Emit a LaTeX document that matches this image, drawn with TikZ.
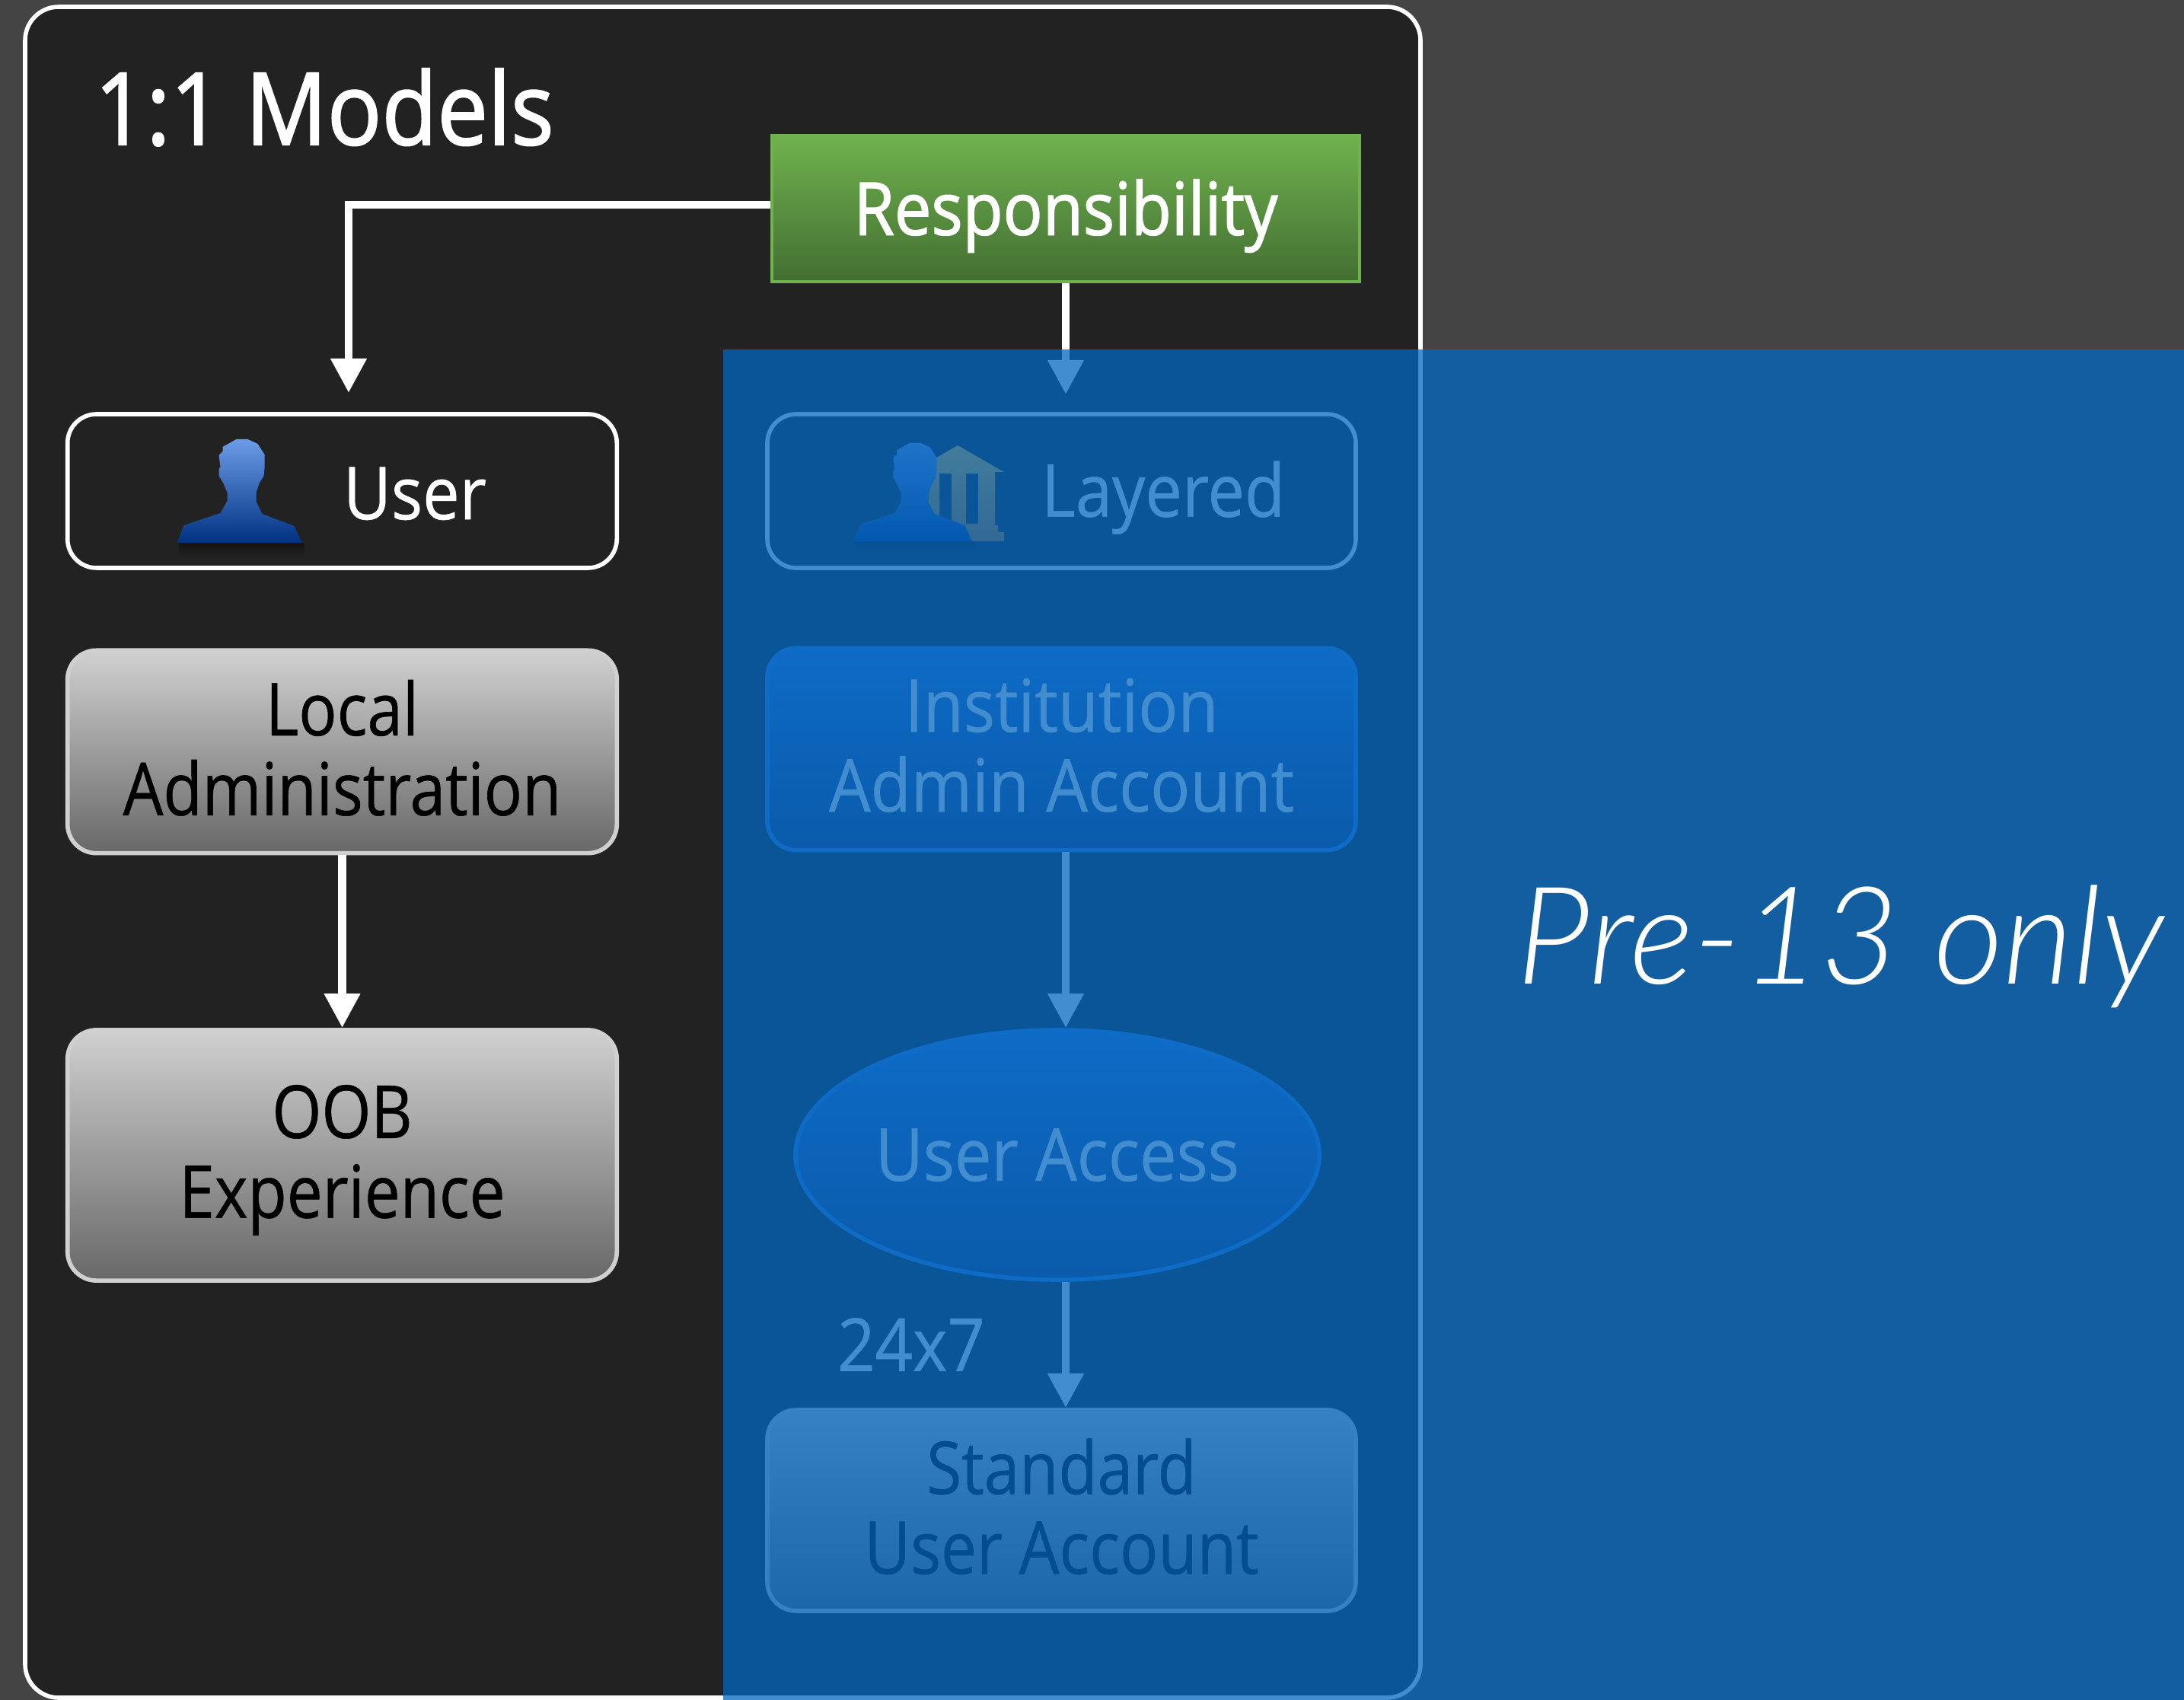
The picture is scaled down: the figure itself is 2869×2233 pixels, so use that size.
\documentclass[tikz,border=0pt]{standalone}
\usepackage{fontspec}
\setmainfont[FakeStretch=0.9,FakeBold=0.6]{Open Sans}
\newfontfamily\narrowfont[FakeStretch=0.87,FakeBold=0.6]{Open Sans}
\newfontfamily\headfont[FakeStretch=0.9,FakeBold=1.5]{Open Sans}
\newfontfamily\prefont[ItalicFont={Lato Light Italic}]{Lato}
\usetikzlibrary{arrows.meta}
\usetikzlibrary{fadings}
\usetikzlibrary{shapes.geometric}
\definecolor{bgc}{RGB}{68,68,68}
\definecolor{panelc}{RGB}{34,34,34}
\definecolor{veilc}{RGB}{3,103,191}
\definecolor{greent}{RGB}{112,178,78}
\definecolor{greenb}{RGB}{66,110,50}
\definecolor{grayt}{RGB}{208,208,208}
\definecolor{grayb}{RGB}{104,104,104}
\definecolor{bluet}{RGB}{48,120,220}
\definecolor{blueb}{RGB}{32,56,110}
\definecolor{persont}{RGB}{108,156,232}
\definecolor{personb}{RGB}{0,50,130}
\definecolor{bankt}{RGB}{255,190,50}
\definecolor{bankb}{RGB}{190,112,30}
\tikzset{
    panel/.style = {rectangle, draw=white, line width=1.4pt, fill=panelc, rounded corners=11pt, minimum width=458.25pt, minimum height=555.25pt},
    linebox/.style = {rectangle, draw=white, line width=1.4pt, rounded corners=9.5pt, text=white, font=\bodyfont, minimum height=50.5pt},
    graybox/.style = {rectangle, draw=grayt, line width=1.4pt, rounded corners=9.5pt, top color=grayt, bottom color=grayb, text=black, align=center, font=\narrowfont\bodyfont},
    bluebox/.style = {rectangle, draw=bluet, line width=1.4pt, rounded corners=9.5pt, top color=bluet, bottom color=blueb, text=white, align=center, font=\bodyfont},
    edgew/.style = {draw=white, line width=2.6pt, -{Triangle[width=11.25pt,length=11.25pt]}},
    personicon/.pic = {
        \fill[black,opacity=.4,path fading=south] (2,0) rectangle (168,18);
        \shade[top color=persont,bottom color=personb] (0,0) -- (9,-23) -- (57,-39) -- (66,-55) -- (66,-66) -- (61,-78) -- (55,-88) -- (55,-96) -- (57,-100) -- (55,-115) -- (60,-120) -- (60,-126) -- (78,-136) -- (93,-136) -- (106,-130) -- (115,-116) -- (115,-98) -- (114,-88) -- (108,-78) -- (104,-66) -- (104,-54) -- (112,-38) -- (154,-22) -- (164,0) -- cycle;
    },
    bankicon/.pic = {
        \shade[top color=bankt,bottom color=bankb,even odd rule] (60,-126) -- (0,-91) -- (22,-91) -- (22,0) -- (121,0) -- (121,-12) -- (113,-12) -- (113,-21) -- (109,-21) -- (109,-91) -- (121,-91) -- cycle
            (36,-89) rectangle (52,-23) (71,-89) rectangle (87,-23);
    },
}
\newcommand{\bodyfont}{\fontsize{24}{26.2}\selectfont}
\newcommand{\lift}{\rule[-2.8pt]{0pt}{0pt}}
\begin{document}
\begin{tikzpicture}[x=0.25pt,y=-0.25pt]
\fill[bgc] (0,0) rectangle (2869,2233);
\useasboundingbox (0,0) rectangle (2869,2233);
\node[panel] at (949.5,1119.5) (panel) {};
\node[text=white,font=\headfont\fontsize{33}{36}\selectfont] at (426,141) (title) {1:1 Models};
%
\node[rectangle,draw=greent,line width=1pt,top color=greent,bottom color=greenb,text=white,font=\headfont\bodyfont,text depth=1.2pt,minimum width=193pt,minimum height=48pt] at (1400,274.5) (resp) {Responsibility};
\node[linebox,text height=18.8pt,minimum width=180.4pt] at (449.5,645) (user) {\hspace*{47.75pt}User};
\node[linebox,text depth=1.4pt,minimum width=193.25pt] at (1394.5,645) (layered) {\hspace*{66.75pt}Layered};
\node[graybox,minimum width=180.4pt,minimum height=66.6pt] at (449.5,987.5) (local) {Local\\Administration\lift};
\node[graybox,minimum width=180.4pt,minimum height=82.3pt] at (449.5,1517.5) (oob) {\rule{0pt}{20.6pt}OOB\\Experience};
\node[bluebox,minimum width=193.25pt,minimum height=66.3pt] at (1394.5,984) (inst) {Institution\\Admin Account\lift};
\node[ellipse,draw=bluet,line width=1.4pt,top color=bluet,bottom color=blueb,text=white,font=\bodyfont,minimum width=172pt,minimum height=82pt,inner sep=0pt] at (1389,1517) (access) {User Access};
\node[graybox,minimum width=193.25pt,minimum height=66pt] at (1394.5,1984) (std) {Standard\\User Account\lift};
\node[text=white,font=\bodyfont] at (1197,1766) (rate) {24x7};
%
\pic at (232.5,713) {personicon};
\pic at (1198,711) {bankicon};
\pic[scale=0.95] at (1121,711) {personicon};
%
\coordinate (usertop) at (458,516);
\coordinate (layeredtop) at (1400,518);
\draw[edgew] ([yshift=1.4pt]resp.west) -| (usertop);
\draw[edgew] (resp.south) -- (layeredtop);
\draw[edgew] (local.south) -- (oob.north);
\draw[edgew] (inst.south -| resp.south) -- (access.north -| resp.south);
\draw[edgew] (access.south -| resp.south) -- (std.north -| resp.south);
%
\fill[veilc,opacity=.75] (950,459) rectangle (2869,2233);
\node[text=white,font=\prefont\itshape\fontsize{44.6}{48}\selectfont] at (2418,1243) (pre) {Pre-13 only};
\end{tikzpicture}
\end{document}
